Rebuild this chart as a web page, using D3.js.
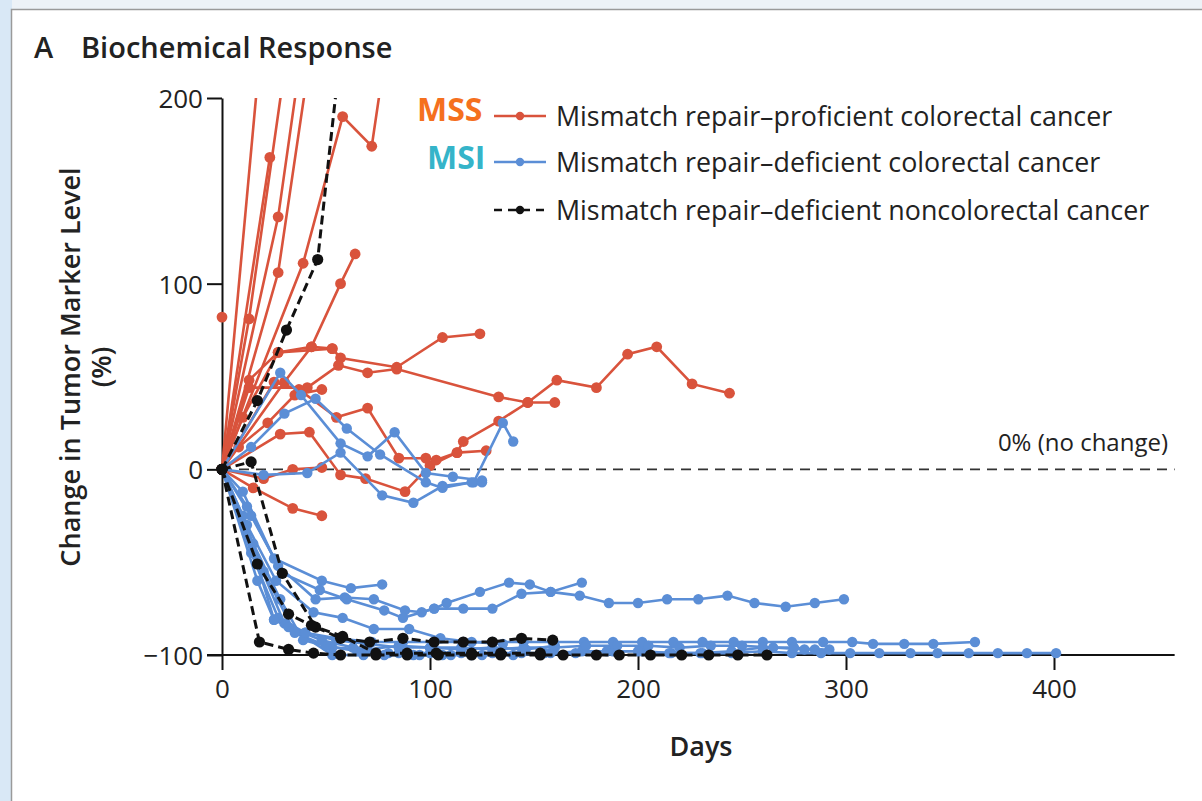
<!DOCTYPE html>
<html>
<head>
<meta charset="utf-8">
<script src="https://cdn.jsdelivr.net/npm/d3@7"></script>
<style>
  body { margin: 0; background: #fff; }
  text { font-family: "Open Sans", "Noto Sans", sans-serif; fill: #222; }
</style>
</head>
<body>
<div id="chart"></div>
<script>
// ---- data (days, % change) ----
var mssSeries = [
    [[0, 82]],
    [[0, 0], [20, 245]],
    [[0, 0], [23, 168]],
    [[0, 0], [13, 81], [30, 215]],
    [[0, 0], [27, 106], [42, 220]],
    [[0, 0], [27, 136], [37, 215]],
    [[0, 0], [39, 111], [58, 190], [72, 174], [80, 235]],
    [[0, 0], [30, 47], [43, 66], [57, 100], [64, 116]],
    [[0, 0], [13, 48], [27, 63], [53, 65], [57, 60], [84, 55], [106, 71], [124, 73]],
    [[0, 0], [13, 44], [41, 44], [56, 56], [70, 52], [84, 54], [133, 39], [147, 36], [160, 36]],
    [[0, 0], [28, 19], [42, 20], [57, -3], [69, -5], [88, -12], [100, 2], [113, 9], [116, 15], [133, 26], [147, 36], [161, 48], [180, 44], [195, 62], [209, 66], [226, 46], [244, 41]],
    [[0, 0], [15, -10], [34, -21], [48, -25]],
    [[0, 0], [25, 47], [37, 43], [55, 28], [70, 33], [85, 6], [98, 6], [103, 5], [113, 9], [127, 10]],
    [[0, 0], [20, -5], [34, 0], [48, 1]],
    [[0, 0], [10, 28], [27, 63], [43, 66], [53, 65]],
    [[0, 0], [8, 12], [22, 25], [35, 40], [48, 43]]
];

var msiSeries = [
    [[0, 0], [28, 52], [38, 40], [57, 14], [70, 7], [83, 20], [98, -2], [111, -4], [125, -6]],
    [[0, 0], [20, -3], [41, -2], [57, 9], [77, -14], [92, -18], [106, -9], [121, -7], [135, 25], [140, 15]],
    [[0, 0], [14, 12], [30, 30], [45, 38], [60, 22], [76, 8], [98, -7], [106, -10], [120, -7], [125, -7]],
    [[0, 0], [10, -12], [25, -48], [48, -60], [62, -64], [77, -62]],
    [[0, 0], [12, -20], [27, -52], [45, -70], [59, -69], [73, -70], [88, -76], [96, -77], [102, -75], [108, -72], [124, -66], [138, -61], [148, -62], [158, -66], [173, -61]],
    [[0, 0], [14, -25], [29, -56], [47, -65], [60, -70], [78, -76], [87, -80], [102, -75], [116, -75], [130, -75], [144, -67], [158, -66], [172, -68], [186, -72], [200, -72], [214, -70], [229, -70], [243, -68], [256, -72], [271, -74], [285, -72], [299, -70]],
    [[0, 0], [12, -30], [26, -60], [44, -77], [58, -80], [73, -86], [90, -86], [105, -91], [120, -93], [135, -94]],
    [[0, 0], [10, -25], [25, -81], [40, -88], [55, -91], [72, -93], [87, -93], [102, -93], [116, -93], [130, -93], [145, -93], [159, -93], [174, -93], [188, -93], [202, -93], [217, -93], [231, -93], [246, -93], [260, -93], [274, -93], [289, -93], [303, -93], [313, -94], [328, -94], [342, -94], [362, -93]],
    [[0, 0], [12, -35], [30, -83], [53, -100], [68, -100], [85, -99], [100, -99], [115, -99], [130, -99], [144, -99], [158, -99], [173, -98], [188, -98], [202, -98], [216, -99], [231, -99], [245, -99], [260, -98], [274, -99], [288, -99], [302, -99], [316, -99], [331, -99], [344, -99], [359, -99], [373, -99], [387, -99], [401, -99]],
    [[0, 0], [15, -40], [28, -70], [39, -92], [53, -96], [70, -97], [85, -95], [100, -96], [115, -96], [130, -97], [145, -96], [160, -96], [175, -95], [190, -95], [205, -95], [220, -96], [235, -95], [250, -95], [265, -96], [280, -97], [292, -97]],
    [[0, 0], [20, -55], [35, -88], [50, -95], [65, -98], [80, -99], [95, -100], [110, -100], [125, -100], [140, -100], [155, -99], [170, -99], [185, -98], [200, -98], [215, -99], [230, -99], [245, -98], [260, -96], [275, -96], [285, -97]],
    [[0, 0], [14, -45], [27, -80], [40, -88], [55, -92], [70, -94], [85, -96], [100, -96], [115, -97], [130, -96], [146, -97], [160, -95]],
    [[0, 0], [17, -60], [25, -81], [32, -85], [48, -92], [63, -96], [78, -100], [92, -100], [106, -100], [120, -100]]
];

var nonCrcSeries = [
    [[0, 0], [17, 37], [31, 75], [46, 113], [55, 205]],
    [[0, 0], [14, 4], [29, -56], [45, -85], [57, -91], [71, -93], [87, -91], [102, -93], [116, -93], [130, -93], [144, -91], [159, -92]],
    [[0, 0], [17, -51], [32, -78], [43, -84], [58, -90], [74, -99], [89, -99], [103, -99], [120, -99], [134, -99], [153, -99]],
    [[0, 0], [18, -93], [32, -97], [44, -99], [57, -100], [74, -100], [89, -100], [104, -100], [120, -100], [134, -100], [153, -100], [164, -100], [180, -100], [191, -100], [206, -100], [221, -100], [234, -100], [248, -100], [262, -100]]
];

var xTicks = [0, 100, 200, 300, 400];
var yTicks = [-100, 0, 100, 200];
var xAxisEndDay = 458;

var legendLabels = [
    "Mismatch repair\u2013proficient colorectal cancer",
    "Mismatch repair\u2013deficient colorectal cancer",
    "Mismatch repair\u2013deficient noncolorectal cancer"
];
var legendTags = ["MSS", "MSI", ""];

var red = "#d9533c";
var blue = "#5b8ed6";
var black = "#111";

var width = 1202;
var height = 801;

var svg = d3.select("#chart").append("svg")
    .attr("width", width)
    .attr("height", height);

// slide background + panel frame
svg.append("rect")
    .attr("width", width)
    .attr("height", height)
    .attr("fill", "#edf2f7");
svg.append("rect")
    .attr("width", 12)
    .attr("height", height)
    .attr("fill", "#d9e8f6");
svg.append("rect")
    .attr("x", 11.5)
    .attr("y", 9.5)
    .attr("width", width)
    .attr("height", height)
    .attr("fill", "#fff")
    .attr("stroke", "#9a9a9a")
    .attr("stroke-width", 1.5);

var x = d3.scaleLinear()
    .domain([0, 400])
    .range([222, 1054]);

var y = d3.scaleLinear()
    .domain([-100, 200])
    .range([655, 98]);

// title
svg.append("text")
    .attr("x", 34)
    .attr("y", 58)
    .style("font-size", "29px")
    .style("font-weight", "600")
    .text("A");
svg.append("text")
    .attr("x", 81)
    .attr("y", 58)
    .style("font-size", "29px")
    .style("font-weight", "600")
    .text("Biochemical Response");

// zero reference
svg.append("line")
    .attr("x1", x(0))
    .attr("x2", x(xAxisEndDay))
    .attr("y1", y(0))
    .attr("y2", y(0))
    .attr("stroke", "#333")
    .attr("stroke-width", 1.8)
    .attr("stroke-dasharray", "10,7");

svg.append("text")
    .attr("x", 1168)
    .attr("y", y(0) - 18)
    .attr("text-anchor", "end")
    .style("font-size", "24px")
    .text("0% (no change)");

// axes
var yAxis = svg.append("g")
    .attr("transform", "translate(" + x(0) + ",0)")
    .call(d3.axisLeft(y).tickValues(yTicks).tickSize(15).tickSizeOuter(0).tickPadding(4));

var xAxis = svg.append("g")
    .attr("transform", "translate(0," + y(-100) + ")")
    .call(d3.axisBottom(x).tickValues(xTicks).tickSize(15).tickSizeOuter(0).tickPadding(10));

xAxis.select(".domain")
    .attr("d", "M" + (x(0) - 15) + ",0H" + x(xAxisEndDay));

svg.selectAll(".tick text")
    .style("font-size", "26px")
    .style("font-family", "'Open Sans', sans-serif")
    .attr("fill", "#222");
svg.selectAll(".domain, .tick line")
    .attr("stroke", "#111")
    .attr("stroke-width", 2);
yAxis.selectAll(".tick text").attr("dy", "0.36em");

// axis titles
svg.append("text")
    .attr("transform", "rotate(-90)")
    .attr("x", -367)
    .attr("y", 80)
    .attr("text-anchor", "middle")
    .style("font-size", "27px")
    .style("font-weight", "600")
    .text("Change in Tumor Marker Level");
svg.append("text")
    .attr("transform", "rotate(-90)")
    .attr("x", -367)
    .attr("y", 111)
    .attr("text-anchor", "middle")
    .style("font-size", "27px")
    .style("font-weight", "600")
    .text("(%)");
svg.append("text")
    .attr("x", 701)
    .attr("y", 756)
    .attr("text-anchor", "middle")
    .style("font-size", "27px")
    .style("font-weight", "600")
    .text("Days");

// clip lines at the top of the axis
svg.append("defs").append("clipPath")
    .attr("id", "plotclip")
    .append("rect")
    .attr("x", 0)
    .attr("y", y(200))
    .attr("width", width)
    .attr("height", height);

var plot = svg.append("g")
    .attr("clip-path", "url(#plotclip)");

var line = d3.line()
    .x(function (d) { return x(d[0]); })
    .y(function (d) { return y(d[1]); });

function drawGroup(series, color, dash, r) {
    var g = plot.append("g");
    g.selectAll("path")
        .data(series)
        .enter()
        .append("path")
        .attr("d", line)
        .attr("fill", "none")
        .attr("stroke", color)
        .attr("stroke-width", dash ? 3 : 2.6)
        .attr("stroke-dasharray", dash);
    g.selectAll("circle")
        .data(series.flat())
        .enter()
        .append("circle")
        .attr("cx", function (d) { return x(d[0]); })
        .attr("cy", function (d) { return y(d[1]); })
        .attr("r", r)
        .attr("fill", color);
}

drawGroup(mssSeries, red, null, 5.4);
drawGroup(msiSeries, blue, null, 5.2);
drawGroup(nonCrcSeries, black, "9,5", 5.6);

// legend
var legendY = [116, 162, 210];
var legend = svg.append("g");
var items = legend.selectAll("g")
    .data(legendLabels)
    .enter()
    .append("g")
    .attr("transform", function (d, i) { return "translate(0," + legendY[i] + ")"; });

var legendColors = [red, blue, black];
items.append("line")
    .attr("x1", 494)
    .attr("x2", 546)
    .attr("stroke", function (d, i) { return legendColors[i]; })
    .attr("stroke-width", 2.4)
    .attr("stroke-dasharray", function (d, i) { return i === 2 ? "8,6" : null; });
items.append("circle")
    .attr("cx", 520)
    .attr("r", 4.2)
    .attr("fill", function (d, i) { return legendColors[i]; });
items.append("text")
    .attr("x", 556)
    .attr("y", 10)
    .style("font-size", "26.8px")
    .text(function (d) { return d; });

svg.append("text")
    .attr("x", 417)
    .attr("y", 121)
    .style("font-size", "32px")
    .style("font-weight", "bold")
    .style("fill", "#f5701e")
    .text(legendTags[0]);
svg.append("text")
    .attr("x", 427)
    .attr("y", 169)
    .style("font-size", "32px")
    .style("font-weight", "bold")
    .style("fill", "#35b4c9")
    .text(legendTags[1]);
</script>
</body>
</html>
